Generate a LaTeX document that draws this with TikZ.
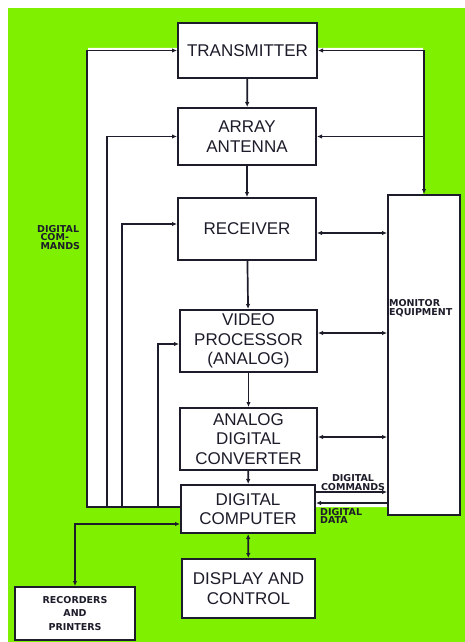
\documentclass[tikz,border=0pt]{standalone}
\usepackage{fontspec}
\setmainfont{Liberation Sans}
\newfontfamily\tagfont{DejaVu Sans}
\usetikzlibrary{arrows.meta}
\definecolor{bggreen}{HTML}{7FF000}
\definecolor{inkdark}{HTML}{1C1C2A}

\tikzset{
  block/.style={draw=inkdark, line width=2pt, fill=white, align=center, inner sep=0pt,
    text=inkdark, font=\fontsize{17}{19.5}\selectfont},
  wire/.style={draw=inkdark, line width=1.7pt},
  tip/.style={-{Latex[length=5pt,width=4.5pt]}},
  both/.style={{Latex[length=5pt,width=4.5pt]}-{Latex[length=5pt,width=4.5pt]}},
  tag/.style={font=\tagfont\bfseries\fontsize{9.5}{8.6}\selectfont, inner sep=0pt,
    align=left, text=inkdark}
}

\begin{document}
\begin{tikzpicture}[x=1pt, y=-1pt]

\useasboundingbox (0,0) rectangle (465,642);

% Background
\fill[white] (0,0) rectangle (465,642);
\fill[bggreen] (8,8) rectangle (465,642);
\fill[white] (88,48) -- (423,48) -- (423,195) -- (460,195) -- (460,507) -- (88,507) -- cycle;

% ---------- Blocks ----------
\node[block, minimum width=139pt, minimum height=55pt] (tx)   at (247.5,50.5) {TRANSMITTER};
\node[block, minimum width=138pt, minimum height=57pt] (ant)  at (247,136.5)  {ARRAY\\ANTENNA};
\node[block, minimum width=138pt, minimum height=62pt] (rcv)  at (247,229)    {RECEIVER};
\node[block, minimum width=137pt, minimum height=62pt] (vid)  at (248.5,341)  {VIDEO\\PROCESSOR\\(ANALOG)};
\node[block, minimum width=137pt, minimum height=62pt] (adc)  at (248.5,439)  {ANALOG\\DIGITAL\\CONVERTER};
\node[block, minimum width=134pt, minimum height=48pt] (cpu)  at (248,509)    {DIGITAL\\COMPUTER};
\node[block, minimum width=133pt, minimum height=59pt] (disp) at (248.5,588.5) {DISPLAY AND\\CONTROL};
\node[block, minimum width=120pt, minimum height=53pt, font=\tagfont\bfseries\fontsize{9.5}{13.5}\selectfont] (rec) at (75,613.5) {RECORDERS\\AND\\PRINTERS};
\node[block, minimum width=72pt, minimum height=320pt] (mon) at (424,355) {};

% ---------- Signal chain ----------
\draw[wire,tip] (tx) -- (ant);
\draw[wire,tip] (ant) -- (rcv);
\draw[wire,tip] (rcv) -- (vid);
\draw[wire,tip] (vid) -- (adc);
\draw[wire,tip] (adc) -- (cpu);
\draw[wire,both] (cpu) -- (disp);
\draw[wire,both] ([yshift=-15pt]cpu.west) -| (rec.north);

% ---------- Digital commands (left) ----------
\coordinate (bus) at ([yshift=2pt]cpu.west);
\draw[wire,tip] (bus) -| ([xshift=-90pt]tx.west) -- (tx.west);
\foreach \dx/\tgt/\dy in {-73/ant/0, -58/rcv/5, -22/vid/-3}
  \draw[wire,tip] ([xshift=\dx pt]bus) |- ([yshift=\dy pt]\tgt.west);
\node[tag, anchor=north west] (cmdl) at (37,225) {DIGITAL\\\ COM-\\\ MANDS};

% ---------- Monitor equipment ----------
\node[tag, anchor=west] (monl) at ([xshift=2pt,yshift=47pt]mon.west) {MONITOR\\EQUIPMENT};
\draw[wire,both] (tx.east) -| (mon.north);
\coordinate (tap) at (mon.north |- ant.east);
\draw[wire,tip] (tap) -- (ant.east);
\foreach \tgt/\dy in {rcv/-4, vid/8, adc/2}
  \draw[wire,both] ([yshift=\dy pt]\tgt.east) -- ([yshift=\dy pt]\tgt.east -| mon.west);

% ---------- Computer <-> monitor ----------
\draw[wire,tip] ([yshift=17pt]cpu.east) -- ([yshift=17pt]cpu.east -| mon.west);
\draw[wire,tip] ([yshift=6pt]cpu.east -| mon.west) -- ([yshift=6pt]cpu.east);
\node[tag, anchor=south, align=center] (cmdr) at ([xshift=37pt,yshift=18.5pt]cpu.east) {DIGITAL\\COMMANDS};
\node[tag, anchor=north west] (datr) at ([xshift=4pt,yshift=1pt]cpu.east) {DIGITAL\\DATA};

\end{tikzpicture}
\end{document}
